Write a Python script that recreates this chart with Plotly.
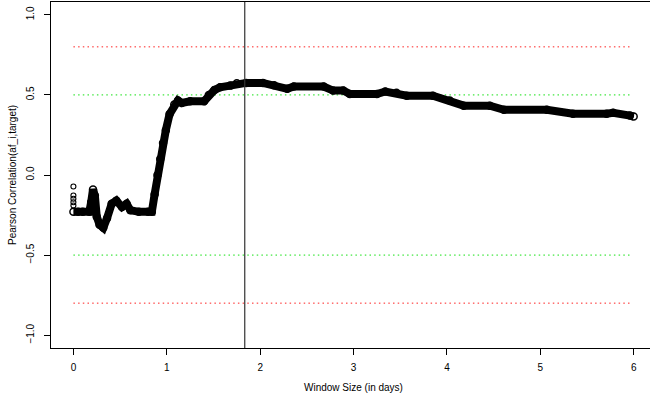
import plotly.graph_objects as go

# Main correlation curve (window size in days vs Pearson correlation)
window_days = [0.00, 0.05, 0.10, 0.17, 0.19, 0.21, 0.23, 0.25, 0.28, 0.32, 0.36, 0.41, 0.46,
               0.52, 0.57, 0.61, 0.70, 0.80, 0.84, 0.87, 0.90, 0.93, 0.96, 0.99, 1.03, 1.08,
               1.12, 1.16, 1.25, 1.40, 1.45, 1.51, 1.57, 1.68, 1.75, 1.85, 2.03, 2.15, 2.29,
               2.36, 2.68, 2.78, 2.89, 2.96, 3.25, 3.34, 3.46, 3.57, 3.85, 4.03, 4.18, 4.46,
               4.61, 5.07, 5.35, 5.71, 5.78, 5.96, 6.00]
correlation = [-0.23, -0.23, -0.23, -0.23, -0.17, -0.09, -0.13, -0.26, -0.31, -0.33, -0.27, -0.18, -0.16,
               -0.20, -0.18, -0.22, -0.23, -0.23, -0.23, -0.12, 0.00, 0.10, 0.20, 0.28, 0.38, 0.44,
               0.465, 0.45, 0.46, 0.46, 0.50, 0.53, 0.548, 0.558, 0.572, 0.575, 0.575, 0.56, 0.538,
               0.552, 0.552, 0.527, 0.527, 0.505, 0.505, 0.521, 0.513, 0.495, 0.495, 0.465, 0.433, 0.433,
               0.407, 0.407, 0.382, 0.382, 0.388, 0.371, 0.365]

# Isolated points at window size 0
start_x = [0, 0, 0, 0, 0]
start_y = [-0.072, -0.128, -0.148, -0.17, -0.19]

# Reference levels
red_levels = [0.8, -0.8]
green_levels = [0.5, -0.5]
level_x = [0, 5.97]
best_window = 1.835

x_ticks = [0, 1, 2, 3, 4, 5, 6]
y_ticks = [-1.0, -0.5, 0.0, 0.5, 1.0]
y_tick_labels = ["\u22121.0", "\u22120.5", "0.0", "0.5", "1.0"]

FONT = "Liberation Sans, Arial, sans-serif"

fig = go.Figure()

for lv in red_levels:
    fig.add_trace(go.Scatter(x=level_x, y=[lv, lv], mode="lines",
                             line=dict(color="#ff2020", width=1, dash="1.5px,3.2px"),
                             hoverinfo="skip", showlegend=False))
for lv in green_levels:
    fig.add_trace(go.Scatter(x=level_x, y=[lv, lv], mode="lines",
                             line=dict(color="#10e010", width=1, dash="1.5px,3.2px"),
                             hoverinfo="skip", showlegend=False))

fig.add_trace(go.Scatter(x=window_days, y=correlation, mode="lines+markers",
                         line=dict(color="black", width=8),
                         marker=dict(symbol="circle-open", size=7, color="black",
                                     line=dict(width=1.5, color="black")),
                         showlegend=False))
fig.add_trace(go.Scatter(x=start_x, y=start_y, mode="markers",
                         marker=dict(symbol="circle-open", size=5, color="black",
                                     line=dict(width=1.1, color="black")),
                         showlegend=False))

fig.add_shape(type="line", x0=best_window, x1=best_window, y0=0, y1=1,
              xref="x", yref="paper", line=dict(color="#333333", width=1.2))

fig.add_annotation(text="Window Size (in days)", x=3.0, xref="x", y=0, yref="paper",
                   yanchor="middle", yshift=-39, showarrow=False,
                   font=dict(family=FONT, size=10, color="black"))
fig.add_annotation(text="Pearson Correlation(af_i,target)", x=0, xref="paper", xanchor="center",
                   xshift=-39, y=0, yref="y", yanchor="middle", textangle=-90, showarrow=False,
                   font=dict(family=FONT, size=10, color="black"))

fig.update_layout(
    width=650, height=399,
    margin=dict(l=51, r=0, t=2, b=51),
    paper_bgcolor="white", plot_bgcolor="white",
    font=dict(family=FONT, size=10, color="black"),
    xaxis=dict(range=[-0.24, 6.175], tickvals=x_ticks, ticktext=[str(v) for v in x_ticks],
               showgrid=False, zeroline=False, showline=True, linecolor="black", linewidth=1,
               mirror=True, ticks="outside", ticklen=6, tickcolor="black",
               ticklabelstandoff=4),
    yaxis=dict(range=[-1.08, 1.08], tickvals=y_ticks, ticktext=y_tick_labels, tickangle=-90,
               showgrid=False, zeroline=False, showline=True, linecolor="black", linewidth=1,
               ticks="outside", ticklen=6, tickcolor="black", ticklabelstandoff=6),
)

fig.write_html("out.html", config={"displayModeBar": False},
               post_script="document.body.style.margin='0';document.body.style.padding='0';")
